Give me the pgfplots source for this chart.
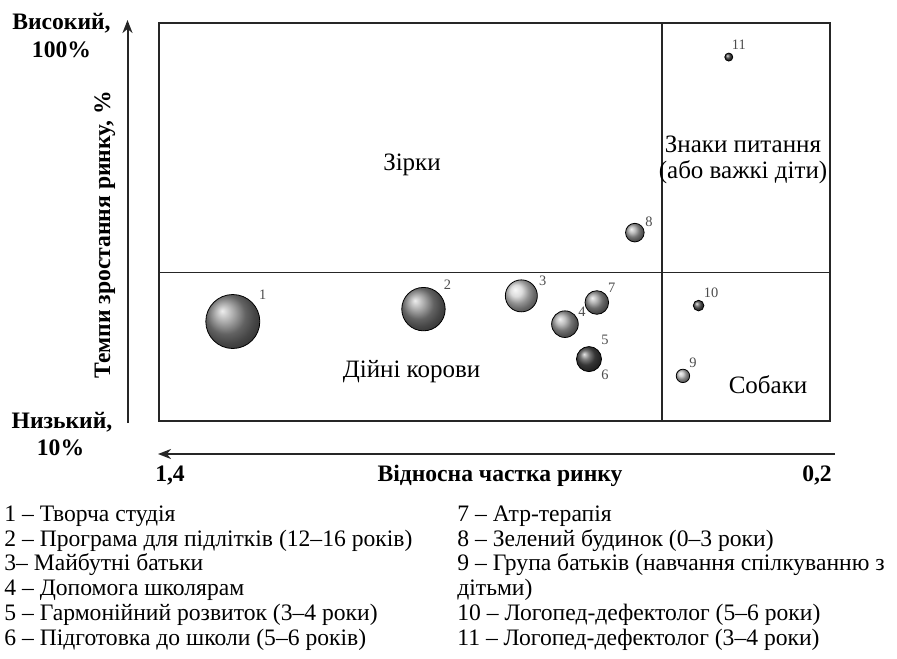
\documentclass[border=0pt]{standalone}
\usepackage{pgfplots}
\pgfplotsset{compat=1.18}
\usetikzlibrary{arrows.meta}
\usepackage{fontspec}
\setmainfont{Liberation Serif}

\newcommand\axfont{\fontsize{11.8}{13}\bfseries\selectfont}
\newcommand\zonefont{\fontsize{12.5}{13.5}\selectfont}
\newcommand\keyfont{\fontsize{11.8}{12.4}\selectfont}

\begin{document}
\begin{tikzpicture}[
  num/.style={font=\fontsize{7.2}{8}\selectfont, text=black!70, inner sep=0pt},
]
\useasboundingbox (0,0) rectangle (448.5pt,-329pt);
\begin{axis}[
  at={(79.5pt,-210.5pt)}, anchor=south west,
  scale only axis, width=335.5pt, height=199pt,
  xmin=0.2, xmax=1.4, x dir=reverse,
  ymin=10, ymax=100,
  xtick=\empty, ytick=\empty,
  axis line style={line width=1pt, draw=black!85},
  clip=false,
  bubble/.style={only marks, mark=ball, mark size=#1},
]
% quadrant dividers
\draw[line width=0.8pt, black!85] (axis cs:0.5,10) -- (axis cs:0.5,100);
\draw[line width=0.8pt, black!85] (axis cs:1.4,43.6) -- (axis cs:0.2,43.6);

% services: relative market share vs. market growth, bubble = volume
\addplot[bubble=13.5pt,  mark options={ball color=black!45}] coordinates {(1.268,32.5)};
\addplot[bubble=10.85pt, mark options={ball color=black!45}] coordinates {(0.927,35.3)};
\addplot[bubble=8pt,     mark options={ball color=black!18}] coordinates {(0.752,38.3)};
\addplot[bubble=6.65pt,  mark options={ball color=black!35}] coordinates {(0.674,31.9)};
\addplot[bubble=6.25pt,  mark options={ball color=black!70}] coordinates {(0.631,24.0)};
\addplot[bubble=5.9pt,   mark options={ball color=black!40}] coordinates {(0.617,36.8)};
\addplot[bubble=4.65pt,  mark options={ball color=black!35}] coordinates {(0.549,52.6)};
\addplot[bubble=3.35pt,  mark options={ball color=black!25}] coordinates {(0.463,20.2)};
\addplot[bubble=2.65pt,  mark options={ball color=black!65}] coordinates {(0.435,36.1)};
\addplot[bubble=2pt,     mark options={ball color=black!75}] coordinates {(0.381,92.3)};

\node[num] at (axis cs:1.268,32.5) [xshift=15pt,  yshift=13.25pt] {1};
\node[num] at (axis cs:0.927,35.3) [xshift=12pt,  yshift=12pt]    {2};
\node[num] at (axis cs:0.752,38.3) [xshift=10.75pt,yshift=7.5pt]  {3};
\node[num] at (axis cs:0.674,31.9) [xshift=8.5pt, yshift=6pt]     {4};
\node[num] at (axis cs:0.631,24.0) [xshift=8pt,   yshift=9.5pt]   {5};
\node[num] at (axis cs:0.631,24.0) [xshift=8pt,   yshift=-8pt]    {6};
\node[num] at (axis cs:0.617,36.8) [xshift=7.5pt, yshift=7.25pt]  {7};
\node[num] at (axis cs:0.549,52.6) [xshift=7pt,   yshift=5.5pt]   {8};
\node[num] at (axis cs:0.463,20.2) [xshift=5pt,   yshift=6.5pt]   {9};
\node[num] at (axis cs:0.435,36.1) [xshift=6.25pt,yshift=6.35pt]  {10};
\node[num] at (axis cs:0.381,92.3) [xshift=5pt,   yshift=6pt]     {11};
\end{axis}

\begin{scope}[x=0.5pt, y=-0.5pt]
% axis arrows
\draw[line width=1pt, black!85, -{Stealth[length=6.5pt,width=5pt,inset=2pt]}] (127.5,423) -- (127.5,20);
\draw[line width=1pt, black!85, -{Stealth[length=6.5pt,width=5pt,inset=2pt]}] (835,454) -- (158,454);

% axis captions
\node[anchor=base, inner sep=0pt, font=\axfont] at (61.5,30) {Високий,};
\node[anchor=base, inner sep=0pt, font=\axfont] at (61.5,58) {100\%};
\node[anchor=base, inner sep=0pt, font=\axfont] at (62,428) {Низький,};
\node[anchor=base, inner sep=0pt, font=\axfont] at (60.5,455) {10\%};
\node[anchor=base, inner sep=0pt, font=\axfont, rotate=90] at (110,235) {Темпи зростання ринку, \%};
\node[anchor=base, inner sep=0pt, font=\axfont] at (170,481) {1,4};
\node[anchor=base, inner sep=0pt, font=\axfont] at (500,481) {Відносна частка ринку};
\node[anchor=base, inner sep=0pt, font=\axfont] at (817,481) {0,2};

% quadrant names
\node[anchor=base, inner sep=0pt, font=\zonefont] at (412,170) {Зірки};
\node[anchor=base, inner sep=0pt, font=\zonefont] at (411.5,377) {Дійні корови};
\node[anchor=base, inner sep=0pt, font=\zonefont] at (743,152) {Знаки питання};
\node[anchor=base, inner sep=0pt, font=\zonefont] at (743,178) {(або важкі діти)};
\node[anchor=base, inner sep=0pt, font=\zonefont] at (768,393) {Собаки};

% key
\begin{scope}[every node/.style={anchor=base west, inner sep=0pt, font=\keyfont}]
\node at (4,521) {1 – Творча студія};
\node at (4,546) {2 – Програма для підлітків (12–16 років)};
\node at (4,570) {3– Майбутні батьки};
\node at (4,595) {4 – Допомога школярам};
\node at (4,620) {5 – Гармонійний розвиток (3–4 роки)};
\node at (4,645) {6 – Підготовка до школи (5–6 років)};
\node at (457,521) {7 – Атр-терапія};
\node at (457,546) {8 – Зелений будинок (0–3 роки)};
\node at (457,570) {9 – Група батьків (навчання спілкуванню з};
\node at (457,595) {дітьми)};
\node at (457,620) {10 – Логопед-дефектолог (5–6 роки)};
\node at (457,645) {11 – Логопед-дефектолог (3–4 роки)};
\end{scope}
\end{scope}
\end{tikzpicture}
\end{document}
